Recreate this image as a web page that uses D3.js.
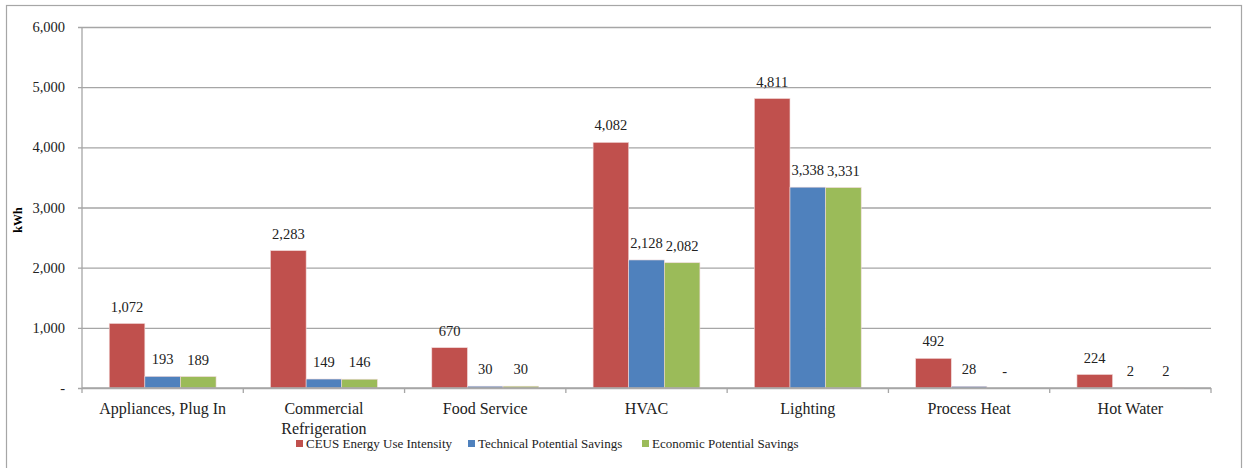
<html>
<script src="https://d3js.org/d3.v7.min.js"></script>
<body style="margin:0;background:#fff">
<script>
    var width = 1243, height = 468

    var categories = ['Appliances, Plug In', 'Commercial Refrigeration', 'Food Service', 'HVAC', 'Lighting', 'Process Heat', 'Hot Water']
    var seriesNames = ['CEUS Energy Use Intensity', 'Technical Potential Savings', 'Economic Potential Savings']
    var ceus = [1072, 2283, 670, 4082, 4811, 492, 224]
    var technical = [193, 149, 30, 2128, 3338, 28, 2]
    var economic = [189, 146, 30, 2082, 3331, 0, 2]
    var yTicks = [0, 1000, 2000, 3000, 4000, 5000, 6000]
    var colors = ['#C0504D', '#4F81BD', '#9BBB59']

    var font = '"Liberation Serif", "DejaVu Serif", serif'
    var series = [ceus, technical, economic]

    var svg = d3.select('body').append('svg').attr('width', width).attr('height', height)
        .style('font-family', font)

    // outer chart frame
    svg.append('rect').attr('x', 6.5).attr('y', 5.5).attr('width', 1235).attr('height', 470)
        .attr('fill', 'white').attr('stroke', '#a6a6a6').attr('stroke-width', 1.2)

    var plotL = 82, plotR = 1211, plotT = 27, plotB = 388

    var x = d3.scaleBand().domain(categories).range([plotL, plotR]).paddingInner(0).paddingOuter(0)
    var inner = d3.scaleBand().domain([0, 1, 2]).range([0, x.bandwidth()]).paddingOuter(0.765).paddingInner(0)
    var y = d3.scaleLinear().domain([0, 6000]).range([plotB, plotT])

    var fmt = d3.format(',')
    var label = function(v){ return v === 0 ? '-' : fmt(v) }

    // y axis with gridlines
    var yAxis = svg.append('g').attr('transform', `translate(${plotL},0)`)
        .call(d3.axisLeft(y).tickValues(yTicks).tickSize(-(plotR - plotL)).tickPadding(17).tickFormat(label))
    yAxis.select('.domain').remove()
    yAxis.selectAll('.tick line').attr('stroke', '#a6a6a6').attr('stroke-width', 1.3).attr('x1', -4)
    yAxis.selectAll('.tick text').attr('font-size', 14.5).attr('fill', '#222').style('font-family', font)

    svg.append('line').attr('x1', plotL).attr('x2', plotL).attr('y1', plotT).attr('y2', plotB)
        .attr('stroke', '#a6a6a6').attr('stroke-width', 1.3)

    // bars
    var groups = svg.selectAll('.cat').data(categories).enter().append('g')
        .attr('transform', function(d){ return `translate(${x(d)},0)` })

    groups.each(function(cat, ci){
        var g = d3.select(this)
        series.forEach(function(s, si){
            var v = s[ci]
            g.append('rect').attr('x', inner(si)).attr('width', inner.bandwidth())
                .attr('y', y(v)).attr('height', plotB - y(v))
                .attr('fill', colors[si]).attr('stroke', v > 0 ? '#f0d8d8' : 'none').attr('stroke-width', 0.6)
            g.append('text').attr('x', inner(si) + inner.bandwidth() / 2).attr('y', y(v) - 12)
                .attr('text-anchor', 'middle').attr('font-size', 14.5).attr('fill', '#222')
                .text(label(v))
        })
    })

    // x axis
    svg.append('line').attr('x1', plotL).attr('x2', plotR).attr('y1', plotB).attr('y2', plotB)
        .attr('stroke', '#a6a6a6').attr('stroke-width', 1.3)
    var edges = categories.map(function(c){ return x(c) }).concat([plotR])
    svg.selectAll('.xtick').data(edges).enter().append('line')
        .attr('x1', function(d){ return d }).attr('x2', function(d){ return d })
        .attr('y1', plotB).attr('y2', plotB + 5).attr('stroke', '#a6a6a6').attr('stroke-width', 1.3)

    var xl = svg.selectAll('.xl').data(categories).enter().append('text')
        .attr('x', function(d){ return x(d) + x.bandwidth() / 2 }).attr('y', 414)
        .attr('text-anchor', 'middle').attr('font-size', 16).attr('fill', '#222')
    xl.each(function(d){
        var t = d3.select(this)
        var parts = d === 'Commercial Refrigeration' ? ['Commercial', 'Refrigeration'] : [d]
        parts.forEach(function(p, i){
            t.append('tspan').attr('x', x(d) + x.bandwidth() / 2).attr('dy', i ? 20 : 0).text(p)
        })
    })

    // y title
    svg.append('text').attr('transform', 'translate(22,220) rotate(-90)')
        .attr('text-anchor', 'middle').attr('font-size', 12).attr('font-weight', 'bold').text('kWh')

    // legend
    var legendX = [296, 468, 642]
    var lg = svg.selectAll('.lg').data(seriesNames).enter().append('g')
        .attr('transform', function(d, i){ return `translate(${legendX[i]},440)` })
    lg.append('rect').attr('width', 7).attr('height', 7).attr('fill', function(d, i){ return colors[i] })
    lg.append('text').attr('x', 10).attr('y', 8).attr('font-size', 13).attr('fill', '#222').text(function(d){ return d })
</script>
</body>
</html>
